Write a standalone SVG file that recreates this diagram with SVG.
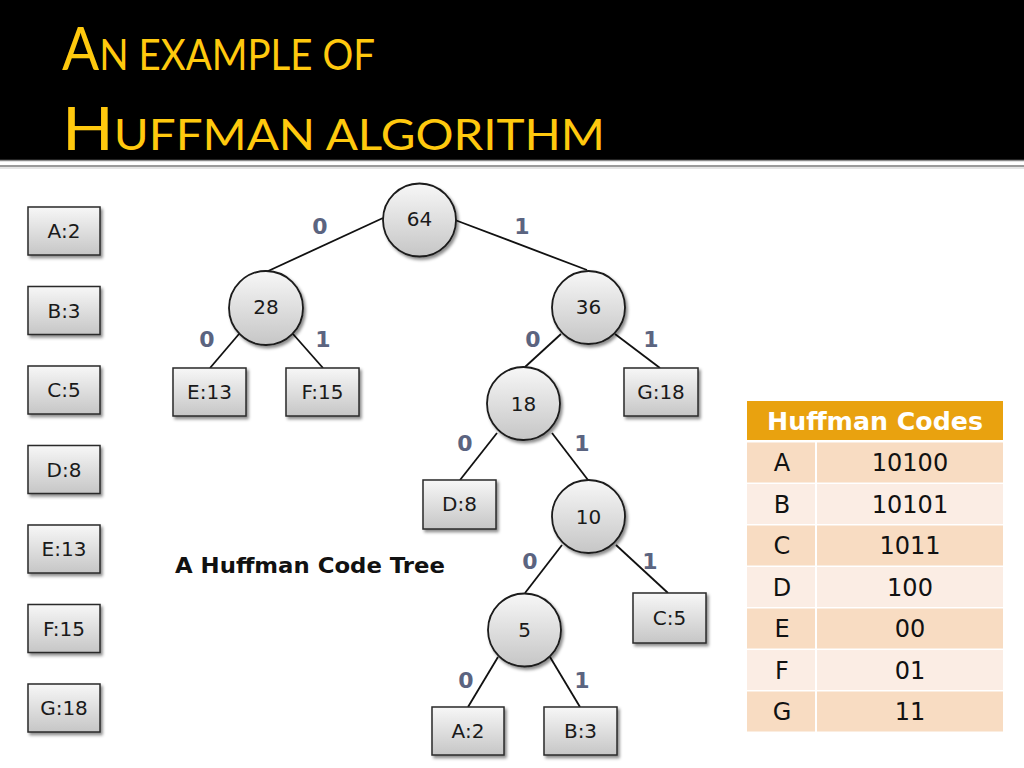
<svg xmlns="http://www.w3.org/2000/svg" width="1024" height="768" viewBox="0 0 1024 768">
<defs>
<linearGradient id="g" x1="0" y1="0" x2="0" y2="1">
<stop offset="0" stop-color="#f7f7f7"/>
<stop offset="1" stop-color="#c6c6c6"/>
</linearGradient>
<filter id="sh" x="-20%" y="-20%" width="150%" height="150%">
<feDropShadow dx="2" dy="2.5" stdDeviation="1.5" flood-color="#000" flood-opacity="0.45"/>
</filter>
<style>
.box{fill:url(#g);stroke:#2a2a2a;stroke-width:1.5;filter:url(#sh)}
.circ{fill:url(#g);stroke:#1a1a1a;stroke-width:1.8;filter:url(#sh)}
.t{font-family:"DejaVu Sans",Verdana,sans-serif;font-size:20px;fill:#1a1a1a;text-anchor:middle}
.lbl{font-family:"DejaVu Sans",Verdana,sans-serif;font-size:22px;font-weight:bold;fill:#5b6480;text-anchor:middle}
.edge{stroke:#111;stroke-width:1.8;fill:none}
.title{font-family:Lato,"Open Sans",sans-serif;fill:#FFC90E}
.th{font-family:"DejaVu Sans",Verdana,sans-serif;font-size:24px;font-weight:bold;fill:#fff;text-anchor:middle}
.td{font-family:"DejaVu Sans",Verdana,sans-serif;font-size:24px;fill:#111;text-anchor:middle}
.r1{fill:#F8DCC2}
.r2{fill:#FBEDE4}
</style>
</defs>
<rect x="0" y="0" width="1024" height="768" fill="#fff"/>
<g id="header">
<rect x="0" y="0" width="1024" height="160" fill="#000"/>
<line x1="0" y1="160.5" x2="1024" y2="160.5" stroke="#8a8a8a" stroke-width="1.5"/>
<line x1="0" y1="166" x2="1024" y2="166" stroke="#9a9a9a" stroke-width="2"/>
<line x1="0" y1="168" x2="1024" y2="168" stroke="#dcdcdc" stroke-width="1.5"/>
<text class="title" x="62" y="70" textLength="313" lengthAdjust="spacingAndGlyphs"><tspan font-size="60">A</tspan><tspan font-size="42">N EXAMPLE OF</tspan></text>
<text class="title" x="62" y="150" textLength="543" lengthAdjust="spacingAndGlyphs"><tspan font-size="60">H</tspan><tspan font-size="42">UFFMAN ALGORITHM</tspan></text>
</g>
<g id="legend">
<g id="lA"><rect class="box" x="28" y="207" width="72" height="48"/><text class="t" x="64" y="238">A:2</text></g>
<g id="lB"><rect class="box" x="28" y="286.5" width="72" height="48"/><text class="t" x="64" y="317.5">B:3</text></g>
<g id="lC"><rect class="box" x="28" y="366" width="72" height="48"/><text class="t" x="64" y="397">C:5</text></g>
<g id="lD"><rect class="box" x="28" y="445.5" width="72" height="48"/><text class="t" x="64" y="476.5">D:8</text></g>
<g id="lE"><rect class="box" x="28" y="525" width="72" height="48"/><text class="t" x="64" y="556">E:13</text></g>
<g id="lF"><rect class="box" x="28" y="604.5" width="72" height="48"/><text class="t" x="64" y="635.5">F:15</text></g>
<g id="lG"><rect class="box" x="28" y="684" width="72" height="48"/><text class="t" x="64" y="715">G:18</text></g>
</g>
<g id="connectors">
<line class="edge" x1="383" y1="218" x2="266" y2="272"/>
<line class="edge" x1="455" y1="220" x2="587" y2="270"/>
<line class="edge" x1="239" y1="334" x2="210" y2="368"/>
<line class="edge" x1="293" y1="334" x2="323" y2="368"/>
<line class="edge" x1="561" y1="334" x2="525" y2="367"/>
<line class="edge" x1="615" y1="334" x2="660" y2="368"/>
<line class="edge" x1="497" y1="433" x2="460" y2="480"/>
<line class="edge" x1="552" y1="433" x2="588" y2="480"/>
<line class="edge" x1="562" y1="545" x2="525" y2="593"/>
<line class="edge" x1="616" y1="545" x2="668" y2="593"/>
<line class="edge" x1="498" y1="657" x2="468" y2="707"/>
<line class="edge" x1="550" y1="657" x2="580" y2="707"/>
</g>
<g id="edge-labels">
<text class="lbl" x="320" y="234">0</text>
<text class="lbl" x="522" y="234">1</text>
<text class="lbl" x="207" y="347">0</text>
<text class="lbl" x="323" y="347">1</text>
<text class="lbl" x="533" y="347">0</text>
<text class="lbl" x="651" y="347">1</text>
<text class="lbl" x="465" y="451">0</text>
<text class="lbl" x="582" y="451">1</text>
<text class="lbl" x="530" y="569">0</text>
<text class="lbl" x="650" y="569">1</text>
<text class="lbl" x="466" y="688">0</text>
<text class="lbl" x="582" y="688">1</text>
</g>
<g id="n64"><circle class="circ" cx="419.5" cy="220" r="36.5"/><text class="t" x="419.5" y="226">64</text></g>
<g id="n28"><circle class="circ" cx="266" cy="308" r="37"/><text class="t" x="266" y="314">28</text></g>
<g id="n36"><circle class="circ" cx="588.5" cy="307.5" r="36.5"/><text class="t" x="588.5" y="314">36</text></g>
<g id="n18"><circle class="circ" cx="523.5" cy="403.5" r="36.5"/><text class="t" x="523.5" y="411">18</text></g>
<g id="n10"><circle class="circ" cx="588.5" cy="516.5" r="36.5"/><text class="t" x="588.5" y="524">10</text></g>
<g id="n5"><circle class="circ" cx="524.5" cy="630" r="36.5"/><text class="t" x="524.5" y="637">5</text></g>
<g id="leafE"><rect class="box" x="173" y="368" width="73" height="48"/><text class="t" x="209.5" y="399">E:13</text></g>
<g id="leafF"><rect class="box" x="286" y="368" width="73" height="48"/><text class="t" x="322.5" y="399">F:15</text></g>
<g id="leafG"><rect class="box" x="624" y="368" width="74" height="48"/><text class="t" x="661" y="399">G:18</text></g>
<g id="leafD"><rect class="box" x="423" y="480" width="73" height="49"/><text class="t" x="459.5" y="511">D:8</text></g>
<g id="leafC"><rect class="box" x="633" y="593" width="73" height="50"/><text class="t" x="669.5" y="625">C:5</text></g>
<g id="leafA"><rect class="box" x="432" y="707" width="72" height="48"/><text class="t" x="468" y="738">A:2</text></g>
<g id="leafB"><rect class="box" x="544" y="707" width="73" height="48"/><text class="t" x="580.5" y="738">B:3</text></g>
<g id="caption"><text x="175" y="573" textLength="270" lengthAdjust="spacingAndGlyphs" style="font-family:'DejaVu Sans',Verdana,sans-serif;font-size:22px;font-weight:bold;fill:#111">A Huffman Code Tree</text></g>
<g id="table">
<rect x="747" y="401" width="256" height="39" fill="#E9A20F"/>
<text class="th" x="875" y="430" textLength="216" lengthAdjust="spacingAndGlyphs">Huffman Codes</text>
<rect class="r1" x="747" y="442.5" width="68" height="40"/><rect class="r1" x="817" y="442.5" width="186" height="40"/>
<rect class="r2" x="747" y="484" width="68" height="40"/><rect class="r2" x="817" y="484" width="186" height="40"/>
<rect class="r1" x="747" y="525.5" width="68" height="40"/><rect class="r1" x="817" y="525.5" width="186" height="40"/>
<rect class="r2" x="747" y="567" width="68" height="40"/><rect class="r2" x="817" y="567" width="186" height="40"/>
<rect class="r1" x="747" y="608.5" width="68" height="40"/><rect class="r1" x="817" y="608.5" width="186" height="40"/>
<rect class="r2" x="747" y="650" width="68" height="40"/><rect class="r2" x="817" y="650" width="186" height="40"/>
<rect class="r1" x="747" y="691.5" width="68" height="40"/><rect class="r1" x="817" y="691.5" width="186" height="40"/>
<text class="td" x="782" y="471">A</text><text class="td" x="910" y="471">10100</text>
<text class="td" x="782" y="512.5">B</text><text class="td" x="910" y="512.5">10101</text>
<text class="td" x="782" y="554">C</text><text class="td" x="910" y="554">1011</text>
<text class="td" x="782" y="595.5">D</text><text class="td" x="910" y="595.5">100</text>
<text class="td" x="782" y="637">E</text><text class="td" x="910" y="637">00</text>
<text class="td" x="782" y="678.5">F</text><text class="td" x="910" y="678.5">01</text>
<text class="td" x="782" y="720">G</text><text class="td" x="910" y="720">11</text>
</g>
</svg>
